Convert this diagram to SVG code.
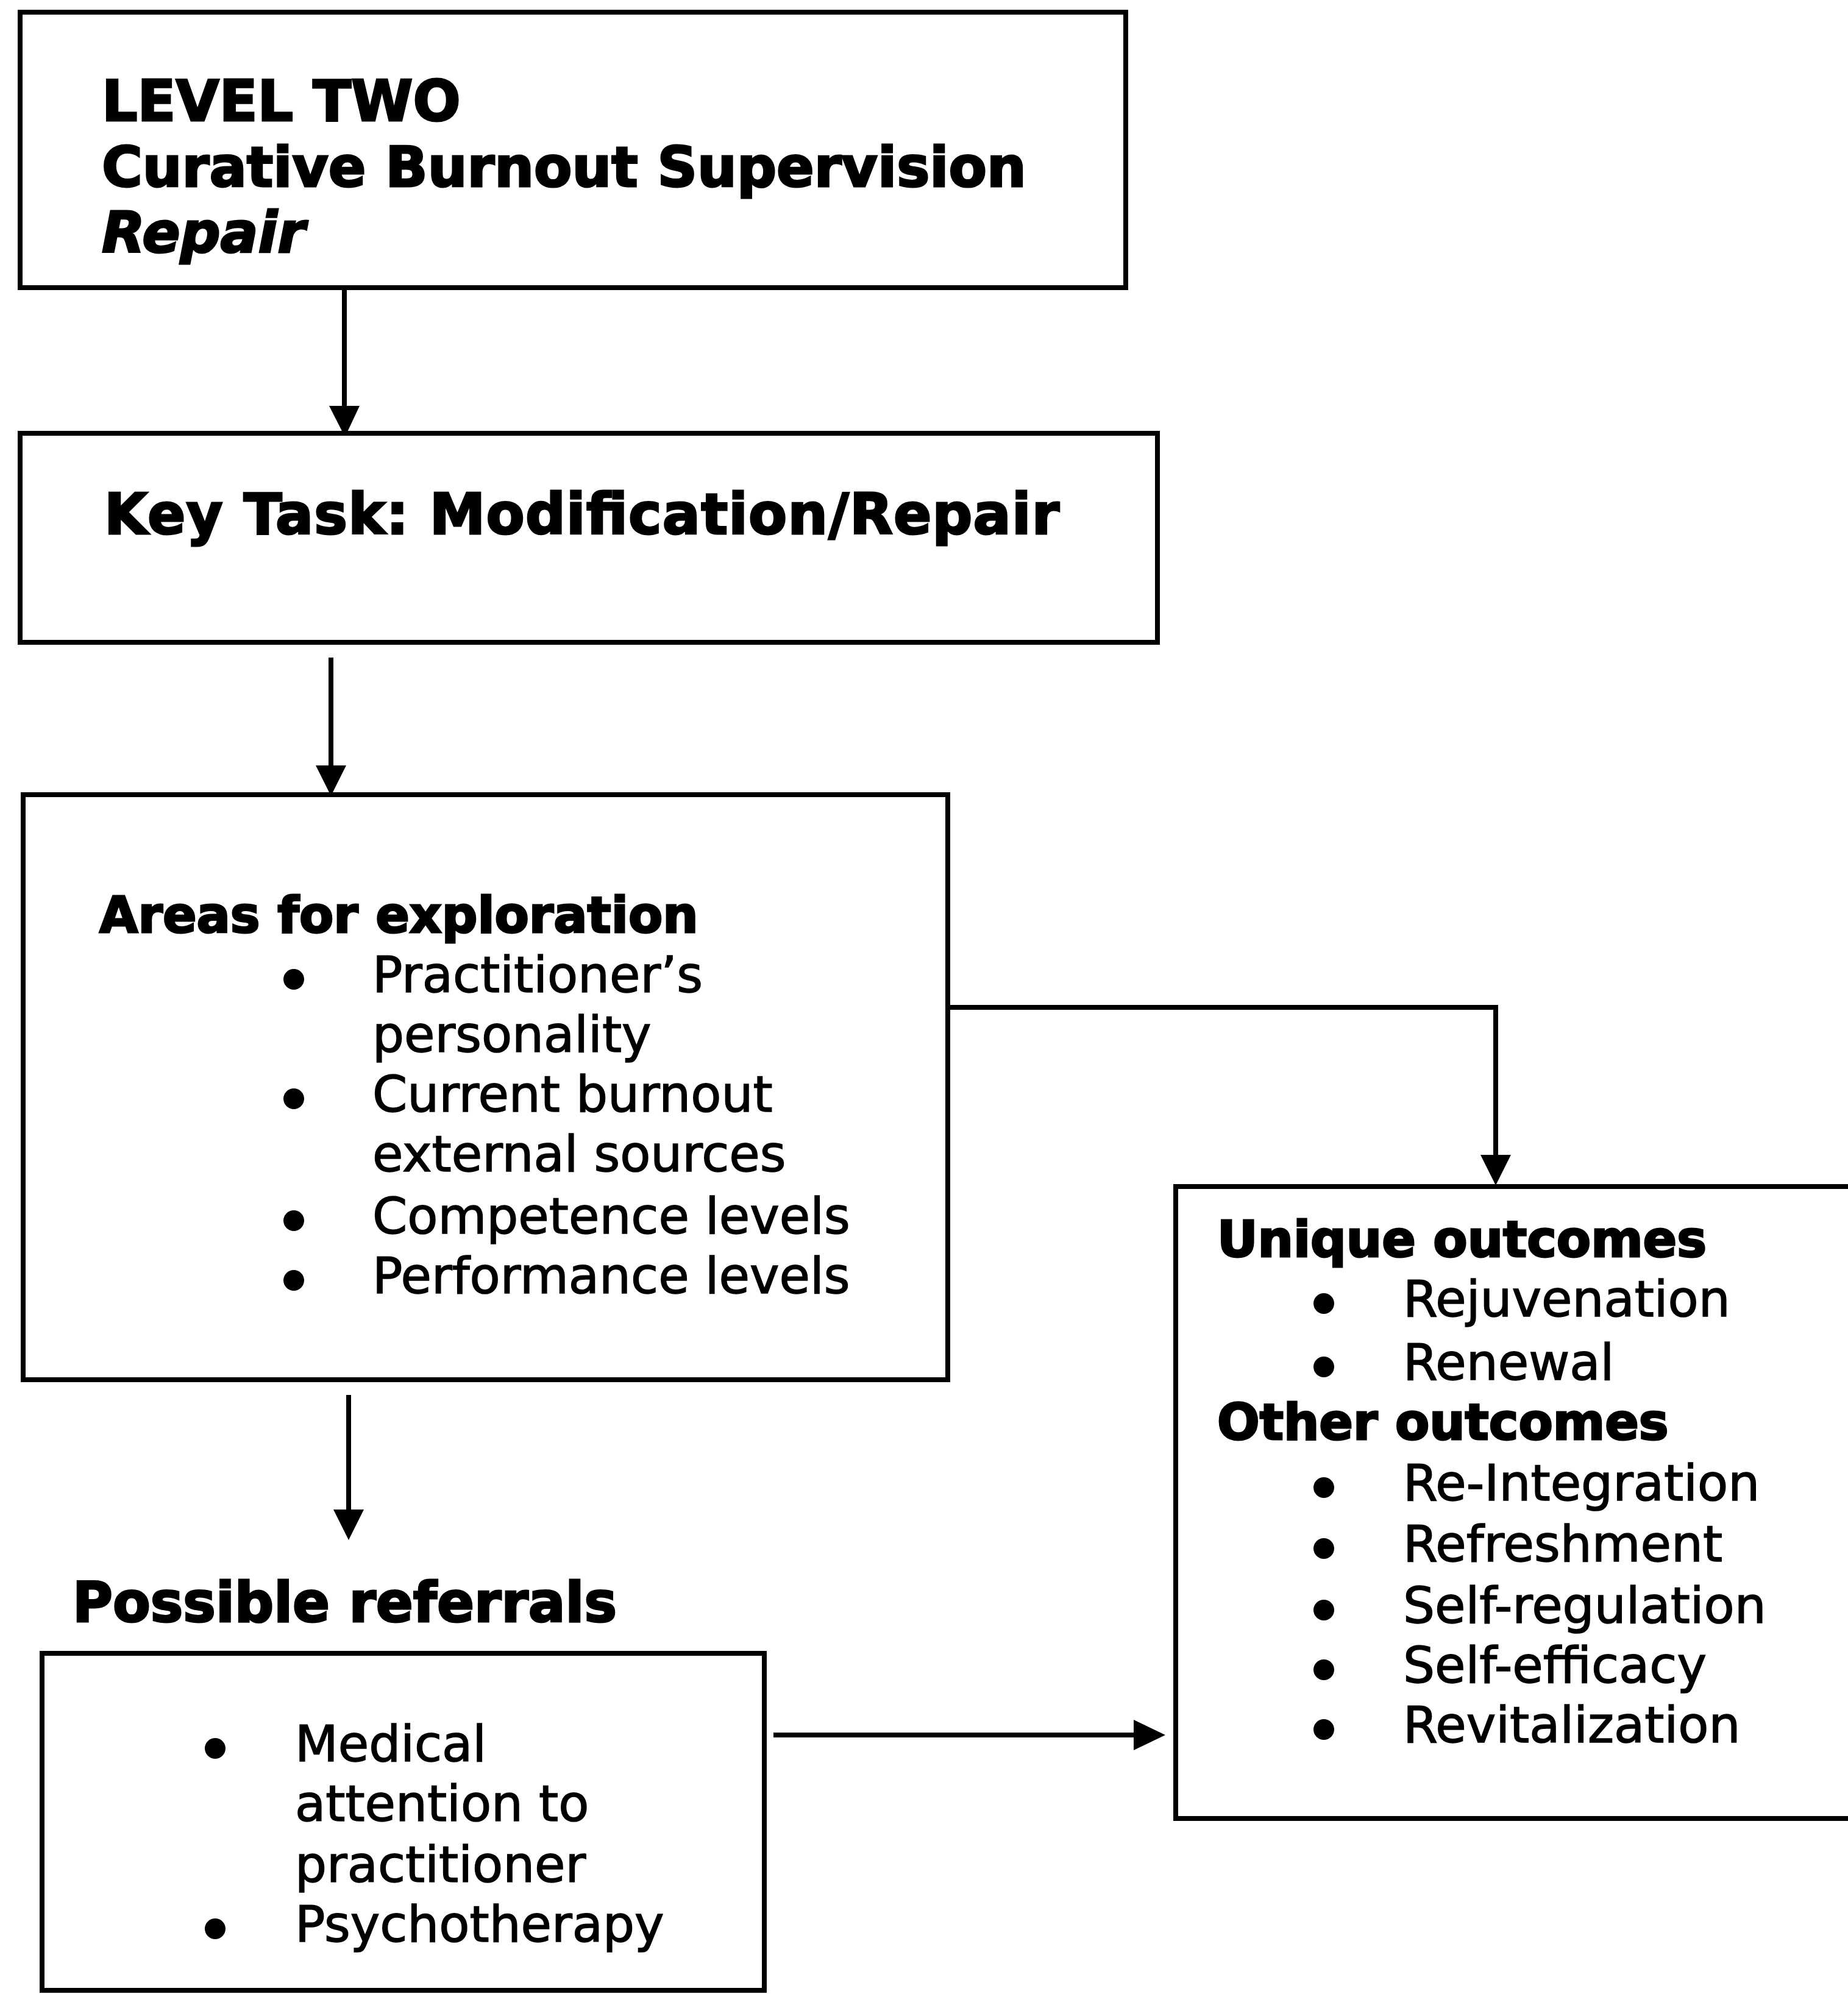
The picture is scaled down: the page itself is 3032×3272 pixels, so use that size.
<svg xmlns="http://www.w3.org/2000/svg" width="3032" height="3272" viewBox="0 0 3032 3272">
<defs>
<style>
.box{fill:#fff;stroke:#000;stroke-width:8}
.conn{fill:none;stroke:#000;stroke-width:8}
.head{fill:#000}
.b{font-family:"DejaVu Sans",Verdana,sans-serif;font-weight:bold;fill:#000;stroke:#000;stroke-width:3}
.r{font-family:"DejaVu Sans",Verdana,sans-serif;fill:#000;stroke:#000;stroke-width:1.5}
.dot{fill:#000}
</style>
</defs>
<rect width="3032" height="3272" fill="#fff"/>
<g id="connectors">
<path class="conn" d="M565,474 V672"/>
<path class="head" d="M540,666 L590,666 L566,717 Z"/>
<path class="conn" d="M543,1079 V1262"/>
<path class="head" d="M518,1256 L568,1256 L543,1306 Z"/>
<path class="conn" d="M1555,1653 H2454 V1900"/>
<path class="head" d="M2429,1895 L2479,1895 L2454,1945 Z"/>
<path class="conn" d="M572,2289 V2482"/>
<path class="head" d="M547,2477 L597,2477 L572,2527 Z"/>
<path class="conn" d="M1269,2847 H1866"/>
<path class="head" d="M1860,2822 L1860,2872 L1912,2847 Z"/>
</g>
<g id="level-two">
<rect class="box" x="33" y="20" width="1814" height="452"/>
<text class="b" x="167" y="198" font-size="92">LEVEL TWO</text>
<text class="b" x="167" y="306" font-size="91">Curative Burnout Supervision</text>
<text class="b" x="167" y="414" font-size="92" font-style="italic">Repair</text>
</g>
<g id="key-task">
<rect class="box" x="33" y="711" width="1866" height="343"/>
<text class="b" x="171" y="876" font-size="92" textLength="1567" lengthAdjust="spacing">Key Task: Modification/Repair</text>
</g>
<g id="areas">
<rect class="box" x="38" y="1304" width="1517" height="960"/>
<text class="b" x="163" y="1530" font-size="82">Areas for exploration</text>
<circle class="dot" cx="482" cy="1607" r="17"/>
<text class="r" x="611" y="1628" font-size="82">Practitioner’s</text>
<text class="r" x="611" y="1726" font-size="82">personality</text>
<circle class="dot" cx="482" cy="1803" r="17"/>
<text class="r" x="611" y="1824" font-size="82">Current burnout</text>
<text class="r" x="611" y="1922" font-size="82">external sources</text>
<circle class="dot" cx="482" cy="2003" r="17"/>
<text class="r" x="611" y="2024" font-size="82">Competence levels</text>
<circle class="dot" cx="482" cy="2101" r="17"/>
<text class="r" x="611" y="2122" font-size="82">Performance levels</text>
</g>
<g id="outcomes">
<rect class="box" x="1929" y="1947" width="1130" height="1037"/>
<text class="b" x="1997" y="2062" font-size="82">Unique outcomes</text>
<circle class="dot" cx="2172" cy="2139" r="17"/>
<text class="r" x="2302" y="2160" font-size="82">Rejuvenation</text>
<circle class="dot" cx="2172" cy="2243" r="17"/>
<text class="r" x="2302" y="2264" font-size="82">Renewal</text>
<text class="b" x="1997" y="2362" font-size="82">Other outcomes</text>
<circle class="dot" cx="2172" cy="2441" r="17"/>
<text class="r" x="2302" y="2462" font-size="82">Re-Integration</text>
<circle class="dot" cx="2172" cy="2541" r="17"/>
<text class="r" x="2302" y="2562" font-size="82">Refreshment</text>
<circle class="dot" cx="2172" cy="2642" r="17"/>
<text class="r" x="2302" y="2663" font-size="82">Self-regulation</text>
<circle class="dot" cx="2172" cy="2740" r="17"/>
<text class="r" x="2302" y="2761" font-size="82">Self-efficacy</text>
<circle class="dot" cx="2172" cy="2838" r="17"/>
<text class="r" x="2302" y="2859" font-size="82">Revitalization</text>
</g>
<g id="referrals-label">
<text class="b" x="119" y="2661" font-size="90">Possible referrals</text>
</g>
<g id="referrals">
<rect class="box" x="69" y="2713" width="1185" height="553"/>
<circle class="dot" cx="353" cy="2869" r="17"/>
<text class="r" x="484" y="2890" font-size="82">Medical</text>
<text class="r" x="484" y="2988" font-size="82">attention to</text>
<text class="r" x="484" y="3088" font-size="82">practitioner</text>
<circle class="dot" cx="353" cy="3165" r="17"/>
<text class="r" x="484" y="3186" font-size="82">Psychotherapy</text>
</g>
</svg>
